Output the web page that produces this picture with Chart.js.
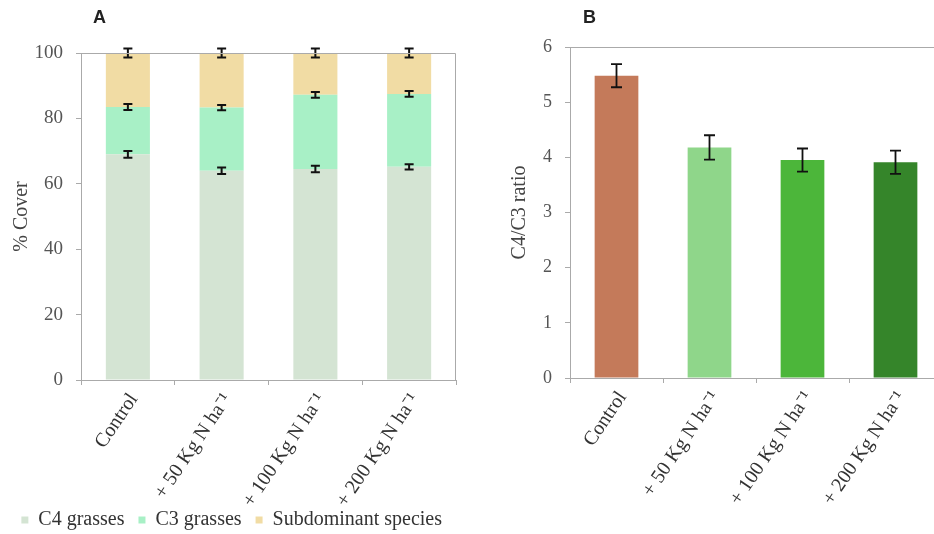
<!DOCTYPE html>
<html><head><meta charset="utf-8">
<script src="https://cdn.jsdelivr.net/npm/chart.js@4.4.1/dist/chart.umd.min.js"></script>
<style>
html,body{margin:0;padding:0;background:#fff;overflow:hidden;width:934px;height:534px;position:relative}
#cA{position:absolute;left:0;top:0}
#cB{position:absolute;left:470px;top:0}
</style></head><body>
<canvas id="cA" width="470" height="534"></canvas>
<canvas id="cB" width="480" height="534"></canvas>
<script>
// treatments
const categories = ['Control', '+ 50 Kg N ha\u207B\u00B9', '+ 100 Kg N ha\u207B\u00B9', '+ 200 Kg N ha\u207B\u00B9'];
// panel A: % cover (stacked)
const c4Cover = [69, 64, 64.5, 65.2];
const c3Cover = [14.5, 19.3, 22.7, 22.3];
const subCover = [16.5, 16.7, 12.8, 12.5];
const c4Err = [1, 1, 1, 0.8];
const c3Err = [0.9, 0.8, 0.9, 0.9];
const subErr = [1.4, 1.4, 1.4, 1.4];
// panel B: C4/C3 ratio
const ratio = [5.48, 4.18, 3.95, 3.91];
const ratioErr = [0.21, 0.22, 0.21, 0.21];
const yTicksA = [0, 20, 40, 60, 80, 100];
const yTicksB = [0, 1, 2, 3, 4, 5, 6];

const SERIF = 'Liberation Serif';
const AXIS = '#aaa';

// box round the plot area
const frame = { id:'frame', afterDraw(c){ const a=c.chartArea, x=c.ctx; x.save(); x.strokeStyle=AXIS; x.lineWidth=1;
  x.beginPath(); x.moveTo(a.left, a.top+0.5); x.lineTo(a.right-0.5, a.top+0.5); x.lineTo(a.right-0.5, a.bottom); x.stroke(); x.restore(); } };

// panel letter
const letter = { id:'letter', afterDraw(c, args, o){ const x=c.ctx; x.save(); x.font='bold 18px "Liberation Sans"'; x.fillStyle='#222';
  x.textBaseline='top'; x.fillText(o.text, o.x, o.y); x.restore(); } };

// error bars
const errBars = { id:'errBars', afterDatasetsDraw(c, args, o){
  const ctx=c.ctx, y=c.scales.y; ctx.save(); ctx.strokeStyle='#111'; ctx.lineWidth=o.width;
  const cum = c.data.labels.map(()=>0);
  c.data.datasets.forEach((ds, d)=>{
    const err=o.errors[d], meta=c.getDatasetMeta(d);
    ds.data.forEach((v,i)=>{
      const top = o.stacked ? (cum[i] += v) : v;
      const px=meta.data[i].x, hi=y.getPixelForValue(top+err[i]), lo=y.getPixelForValue(top-err[i]), h=o.cap/2;
      ctx.beginPath(); ctx.moveTo(px,hi); ctx.lineTo(px,lo);
      ctx.moveTo(px-h,hi); ctx.lineTo(px+h,hi); ctx.moveTo(px-h,lo); ctx.lineTo(px+h,lo); ctx.stroke();
    });
  });
  ctx.restore();
}};

// long rotated labels run into the legend area, so don't clip them to the axis box
const xAxis = (h, stacked)=>({ stacked, grid:{drawOnChartArea:false, color:AXIS, tickLength:5}, border:{color:AXIS},
  ticks:{color:'#333', font:{family:SERIF, size:20}, minRotation:56, maxRotation:56, autoSkip:false, padding:4, labelOffset:6},
  afterFit(s){ s.height=h; s._computeLabelArea = ()=>null; } });
const yAxis = (w, max, title, ticks, stacked, fs, tpad)=>({ stacked, min:0, max,
  afterBuildTicks(s){ s.ticks = ticks.map(v=>({value:v})); },
  ticks:{color:'#555', padding:13, font:{family:SERIF, size:fs}},
  grid:{drawOnChartArea:false, color:AXIS, tickLength:5}, border:{color:AXIS},
  title:{display:true, text:title, color:'#444', padding:{top:tpad, bottom:0}, font:{family:SERIF, size:20}},
  afterFit(s){ s.width=w; } });

new Chart(document.getElementById('cA'), {
  type:'bar',
  data:{ labels:categories, datasets:[
    {label:'C4 grasses', data:c4Cover, backgroundColor:'#d4e4d3'},
    {label:'C3 grasses', data:c3Cover, backgroundColor:'#a8f0c6'},
    {label:'Subdominant species', data:subCover, backgroundColor:'#f1dca4'}
  ].map(d=>Object.assign(d,{categoryPercentage:1, barPercentage:0.47}))},
  options:{ responsive:false, animation:false, devicePixelRatio:1,
    layout:{padding:{left:0, right:14, top:53, bottom:-6}},
    scales:{ x:xAxis(116, true), y:yAxis(81, 100, '% Cover', yTicksA, true, 19, 10) },
    plugins:{ tooltip:{enabled:false},
      legend:{position:'bottom', align:'end', labels:{boxWidth:7, boxHeight:7, padding:14, color:'#333', font:{family:SERIF, size:20}}},
      letter:{text:'A', x:93, y:9},
      errBars:{errors:[c4Err, c3Err, subErr], stacked:true, cap:9, width:2} } },
  plugins:[frame, letter, errBars]
});

new Chart(document.getElementById('cB'), {
  type:'bar',
  data:{ labels:categories, datasets:[
    {label:'C4/C3 ratio', data:ratio, backgroundColor:['#c47a5a','#8fd68a','#4cb63a','#35852a'], categoryPercentage:1, barPercentage:0.47}
  ]},
  options:{ responsive:false, animation:false, devicePixelRatio:1,
    layout:{padding:{left:0, right:8, top:47, bottom:0}},
    scales:{ x:xAxis(156, false), y:yAxis(100, 6, 'C4/C3 ratio', yTicksB, false, 18, 38) },
    plugins:{ tooltip:{enabled:false}, legend:{display:false},
      letter:{text:'B', x:113, y:9},
      errBars:{errors:[ratioErr], stacked:false, cap:11, width:1.8} } },
  plugins:[frame, letter, errBars]
});
</script></body></html>
